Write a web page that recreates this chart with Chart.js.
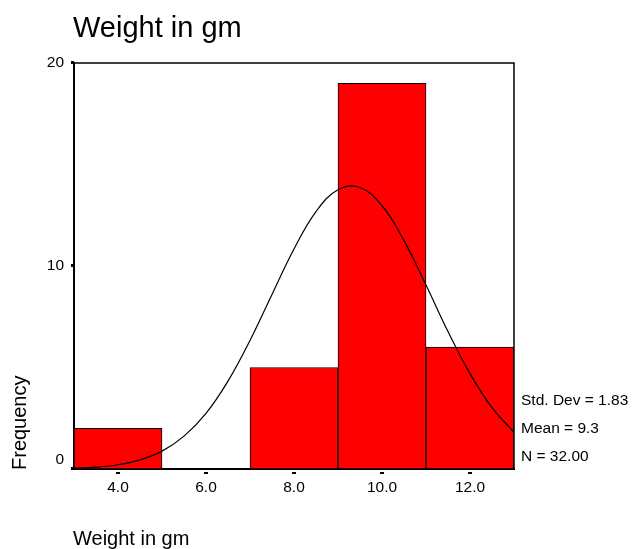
<!DOCTYPE html>
<html>
<head>
<meta charset="utf-8">
<script src="https://cdn.jsdelivr.net/npm/chart.js@4.4.1/dist/chart.umd.min.js"></script>
<style>
  body { margin: 0; background: #fff; }
  #wrap { width: 633px; height: 549px; position: relative; }
</style>
</head>
<body>
<div id="wrap"><canvas id="hist"></canvas></div>
<script>
// histogram data
var binCenters = [4, 6, 8, 10, 12];
var frequency = [2, 0, 5, 19, 6];

// normal curve
var curveX = [3, 3.5, 4, 4.5, 5, 5.5, 6, 6.5, 7, 7.5, 8, 8.5, 9, 9.5, 10, 10.5, 11, 11.5, 12, 12.5, 13];
var curveY = [0.04, 0.09, 0.21, 0.45, 0.88, 1.62, 2.74, 4.33, 6.33, 8.60, 10.84, 12.68, 13.76, 13.87, 12.97, 11.25, 9.06, 6.77, 4.70, 3.02, 1.81];

// ticks
var xTicks = [4, 6, 8, 10, 12];
var xTickLabels = ['4.0', '6.0', '8.0', '10.0', '12.0'];
var yTicks = [0, 10, 20];
var yTickLabels = ['0', '10', '20'];

var statsLines = ['Std. Dev = 1.83', 'Mean = 9.3', 'N = 32.00'];

Chart.defaults.font.family = '"Liberation Sans", Arial, sans-serif';
Chart.defaults.color = '#000';

// frame, tick marks and the loose texts
var decor = {
	id: 'decor',
	afterDraw: function(chart) {
		var ctx = chart.ctx;
		var a = chart.chartArea;
		var xs = chart.scales.x, ys = chart.scales.y;
		ctx.save();
		ctx.strokeStyle = '#000';
		ctx.lineWidth = 1.5;
		ctx.beginPath();
		ctx.moveTo(a.left, a.top);
		ctx.lineTo(a.right, a.top);
		ctx.lineTo(a.right, a.bottom);
		ctx.stroke();

		ctx.fillStyle = '#000';
		yTicks.forEach(function(v) {
			var y = ys.getPixelForValue(v);
			ctx.fillRect(a.left - 3, Math.round(y) - 2, 3, 3);
		});
		xTicks.forEach(function(v) {
			var x = xs.getPixelForValue(v);
			ctx.fillRect(Math.round(x) - 2, a.bottom + 3, 4, 2);
		});

		ctx.textAlign = 'left';
		ctx.textBaseline = 'alphabetic';
		ctx.font = '29px "Liberation Sans", Arial, sans-serif';
		ctx.fillText('Weight in gm', a.left - 1, 37);

		ctx.font = '20px "Liberation Sans", Arial, sans-serif';
		ctx.fillText('Weight in gm', a.left - 1, 545);

		ctx.save();
		ctx.translate(26, a.bottom + 1);
		ctx.rotate(-Math.PI / 2);
		ctx.fillText('Frequency', 0, 0);
		ctx.restore();

		ctx.font = '15.5px "Liberation Sans", Arial, sans-serif';
		ctx.textBaseline = 'middle';
		statsLines.forEach(function(t, i) {
			ctx.fillText(t, a.right + 7, 401 + i * 28);
		});
		ctx.restore();
	}
};

var ctxHist = document.getElementById('hist').getContext('2d');
var hist = new Chart(ctxHist, {
	type: 'bar',
	data: {
		datasets: [{
			type: 'line',
			data: curveX.map(function(x, i) { return {x: x, y: curveY[i]}; }),
			borderColor: '#000',
			borderWidth: 1.2,
			pointRadius: 0,
			tension: 0.4,
			fill: false,
			order: 0
		}, {
			type: 'bar',
			data: binCenters.map(function(x, i) { return {x: x, y: frequency[i]}; }),
			backgroundColor: '#ff0000',
			borderColor: '#000',
			borderWidth: 1,
			borderSkipped: false,
			barPercentage: 1,
			categoryPercentage: 1,
			order: 1
		}]
	},
	options: {
		responsive: true,
		maintainAspectRatio: false,
		animation: false,
		layout: { padding: { left: 0, top: 63, right: 119, bottom: 0 } },
		plugins: { legend: { display: false }, tooltip: { enabled: false } },
		scales: {
			x: {
				type: 'linear',
				offset: false,
				min: 3,
				max: 13,
				grid: { display: false, drawTicks: false, offset: false },
				border: { display: true, color: '#000', width: 2 },
				afterBuildTicks: function(scale) {
					scale.ticks = xTicks.map(function(v) { return {value: v}; });
				},
				afterFit: function(scale) { scale.height = 80; },
				ticks: {
					padding: 9,
					font: { size: 15.5 },
					maxRotation: 0,
					callback: function(v, i) { return xTickLabels[i]; }
				}
			},
			y: {
				min: 0,
				max: 20,
				grid: { display: false, drawTicks: false },
				border: { display: true, color: '#000', width: 2 },
				afterBuildTicks: function(scale) {
					scale.ticks = yTicks.map(function(v) { return {value: v}; });
				},
				afterFit: function(scale) { scale.width = 74; },
				ticks: {
					padding: 10,
					font: { size: 15.5 },
					// the 0 sits a bit higher than its tick, as in the original
					callback: function(v, i) { return i === 0 ? [yTickLabels[i], ''] : yTickLabels[i]; }
				}
			}
		}
	},
	plugins: [decor]
});
</script>
</body>
</html>
